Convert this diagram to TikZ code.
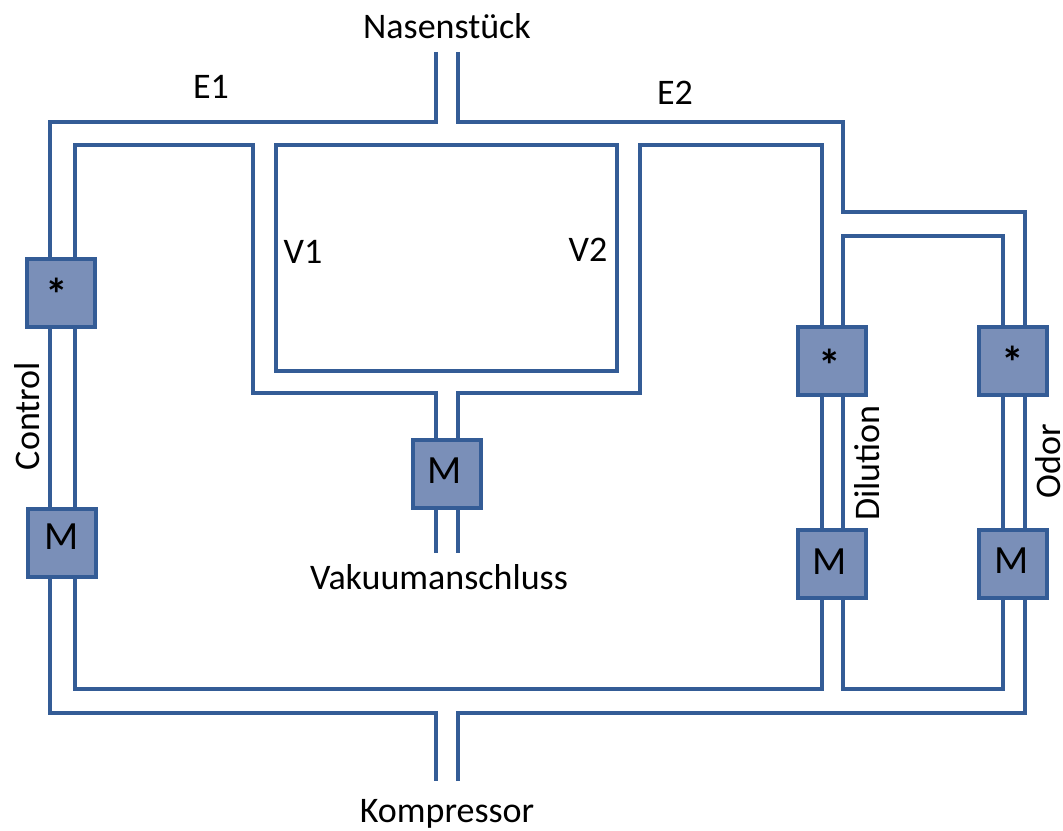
\documentclass[tikz,border=0pt]{standalone}
\usepackage{fontspec}
\setmainfont{Carlito}
\usetikzlibrary{positioning, calc}
\definecolor{pipeblue}{RGB}{52,92,150}
\definecolor{boxfill}{RGB}{122,143,184}
\newcommand{\nudge}[3]{\raisebox{\dimexpr 2\dimexpr #2\relax\relax}{\makebox[0pt]{\kern\dimexpr 2\dimexpr #1\relax\relax #3}}}
\newcommand{\valvemark}[2]{\raisebox{\dimexpr #2-16pt\relax}[0pt][0pt]{\makebox[0pt]{\kern\dimexpr 2\dimexpr #1\relax\relax\fontsize{34}{34}\selectfont\bfseries *}}}
\tikzset{
  pipe/.style={draw=pipeblue, line width=3.6pt, line cap=butt, line join=miter},
  unitbox/.style={
    rectangle, minimum size=50.5pt, inner sep=0pt, outer sep=0pt,
    draw=pipeblue, fill=boxfill, line width=3.2pt,
    font=\fontsize{30}{34}\selectfont
  },
  lbl/.style={font=\fontsize{27}{32}\selectfont, inner sep=0pt, text=black}
}

\begin{document}
\begin{tikzpicture}[x=0.75pt, y=-0.75pt]
\useasboundingbox (0,0) rectangle (1063,831);

% units
\node[unitbox] (controlvalve) at (61,293) {\valvemark{-3pt}{3pt}};
\node[unitbox] (controlmeter) at (62,543) {\nudge{0pt}{4.5pt}{M}};
\node[unitbox] (vacmeter) at (447,474) {\nudge{-1.5pt}{2.25pt}{M}};
\node[unitbox] (dilvalve) at (832,361) {\valvemark{-1.5pt}{0.75pt}};
\node[unitbox] (dilmeter) at (832,564) {\nudge{-1.5pt}{1.5pt}{M}};
\node[unitbox] (odorvalve) at (1013,361) {\valvemark{0pt}{3pt}};
\node[unitbox] (odormeter) at (1013,564) {\nudge{-0.75pt}{2.25pt}{M}};

% pipe ends
\coordinate (nosel) at (436,52);
\coordinate (noser) at (458,52);
\coordinate (vacl) at (436,553);
\coordinate (vacr) at (458,553);
\coordinate (compl) at (436,781);
\coordinate (compr) at (458,781);

% corners
\coordinate (e1out) at (50,122);
\coordinate (e1in) at (75,145);
\coordinate (e2out) at (843,122);
\coordinate (e2in) at (822,145);
\coordinate (odorout) at (1025,212);
\coordinate (odorin) at (1003,236);
\coordinate (v1) at (253,393);
\coordinate (v2) at (640,393);
\coordinate (botout) at (50,713);
\coordinate (botin) at (75,689);
\coordinate (botoutr) at (1025,713);
\coordinate (botinr) at (843,689);

% upper part
\draw[pipe] (nosel) |- (e1out) -- (e1out |- controlvalve.north);
\draw[pipe] (e1in |- controlvalve.north) -- (e1in) -| (v1) -- (vacl |- v1) -- (vacl |- vacmeter.north);
\draw[pipe] (noser) |- (e2out) |- (odorout) -- (odorout |- odorvalve.north);
\draw[pipe] (e2in |- dilvalve.north) -- (e2in) -| (v2) -- (vacr |- v2) -- (vacr |- vacmeter.north);
\draw[pipe] (e2out |- dilvalve.north) |- (odorin) -- (odorin |- odorvalve.north);
\draw[pipe] (276,145) rectangle (617,371);

% between units
\foreach \xa/\unita/\unitb in {50/controlvalve/controlmeter, 75/controlvalve/controlmeter,
    822/dilvalve/dilmeter, 843/dilvalve/dilmeter, 1003/odorvalve/odormeter, 1025/odorvalve/odormeter}
  \draw[pipe] (\xa,0 |- \unita.south) -- (\xa,0 |- \unitb.north);

% vacuum stub
\draw[pipe] (vacl |- vacmeter.south) -- (vacl);
\draw[pipe] (vacr |- vacmeter.south) -- (vacr);

% lower part
\draw[pipe] (botout |- controlmeter.south) -- (botout) -| (compl);
\draw[pipe] (botin |- controlmeter.south) -- (botin) -| (e2in |- dilmeter.south);
\draw[pipe] (compr) |- (botoutr) -- (botoutr |- odormeter.south);
\draw[pipe] (botinr |- dilmeter.south) -- (botinr) -| (odorin |- odormeter.south);

% labels
\node[lbl] (nase) at (447,26) {Nasenstück};
\node[lbl] (e1) at (211,87) {E1};
\node[lbl] (e2) at (675,93) {E2};
\node[lbl] (vl1) at (303,252) {V1};
\node[lbl] (vl2) at (588,250) {V2};
\node[lbl, rotate=90] (control) at (27,416) {Control};
\node[lbl, rotate=90] (dilution) at (867,463) {Dilution};
\node[lbl, rotate=90] (odor) at (1048,461) {Odor};
\node[lbl] (vakuum) at (439,577) {Vakuumanschluss};
\node[lbl] (kompressor) at (447,814) {Kompressor};

\end{tikzpicture}
\end{document}
